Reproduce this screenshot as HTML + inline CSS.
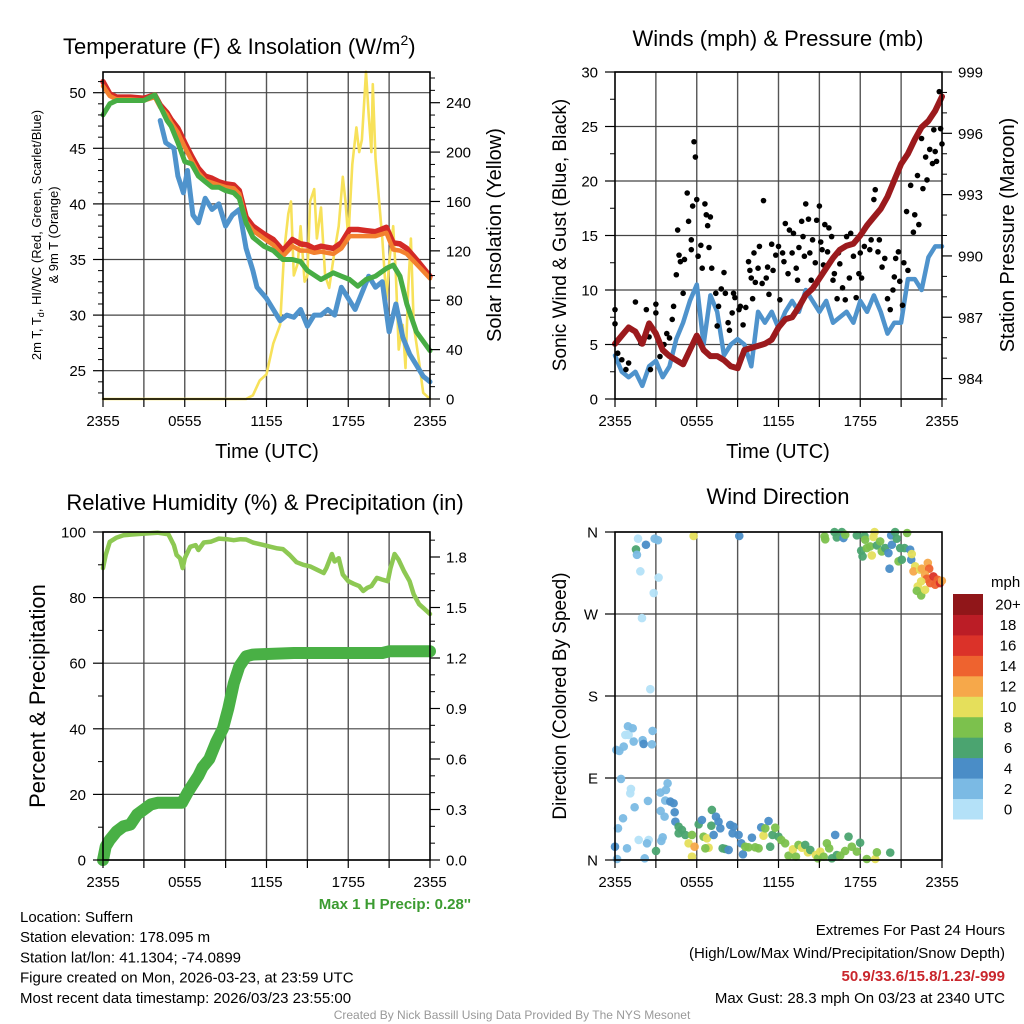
<!DOCTYPE html>
<html><head><meta charset="utf-8"><style>
html,body{margin:0;padding:0;background:#fff;}
svg{display:block;font-family:"Liberation Sans",Arial,sans-serif;}
</style></head><body>
<svg id="c" width="1024" height="1024" viewBox="0 0 1024 1024" xmlns="http://www.w3.org/2000/svg"></svg>
<script>
// ---------- DATA ----------
const timeTickLabels = ["2355","0555","1155","1755","2355"];
// Temperature panel (hours since 2355)
const tempHours = [0,0.5,1,2,3,3.8,4.2,4.7,5,5.5,6,6.5,7,7.5,8,8.5,9,9.6,10,10.5,11,11.8,12.5,13.2,13.9,14.5,15,15.5,16,16.9,17.5,18.1,18.7,19.3,20,20.8,21.3,21.8,22.3,23,24];
const tempRed   = [51,49.9,49.6,49.6,49.5,49.8,48.9,48.2,47.6,46.8,45.5,44.3,43.2,42.5,42.3,42,41.8,41.7,41.2,38.8,38,37.3,36.8,35.8,36.8,36.4,36.3,36,36.2,36,36.5,37.7,37.7,37.6,37.5,37.9,36.5,36.4,36,35,33.5];
const tempOrange= [50.6,49.7,49.4,49.4,49.3,49.6,48.7,48,47.3,46.4,45.1,43.9,42.8,42.1,41.9,41.7,41.5,41.4,40.9,38.4,37.6,36.9,36.3,35.3,36.2,35.8,35.8,35.6,35.7,35.5,36,37.1,37.1,37.1,37.1,37.4,35.9,35.8,35.5,34.6,33.3];
const tempGreen = [48,49,49.3,49.3,49.3,49.8,48.8,47.5,47,45.5,43.8,43.6,42.5,42,41.5,41.5,41.2,41,40.5,38.3,37,36.2,35.8,35,35,34.8,34,33.6,33.2,33.8,33.5,33.2,32.6,33.2,33.5,34.2,34.5,33.5,31,28.5,26.8];
const dewHours = [4.2,4.6,5.2,5.5,5.9,6.2,6.6,7,7.5,8,8.5,9,9.5,10,10.5,11,11.3,12,12.5,13,13.5,14,14.5,15,15.5,16,16.5,17,17.5,18,18.5,19,19.5,20,20.5,21,21.5,22,22.5,23,23.5,24];
const dewBlue  = [47.5,45.5,45,42.5,41,43,39,38.3,40.5,39.5,40,38,39,39.5,36,34,32.5,31.5,30.5,29.5,30,29.8,30.5,29,30,30,30.5,30,32.5,31.5,30.5,32,33.5,32.5,33,28.5,31,28,26.5,25.5,24.5,24];
const solarHours = [0,10.5,11,11.5,12,12.5,13,13.3,13.6,13.8,14,14.3,14.5,14.8,15,15.2,15.5,15.7,16,16.3,16.6,17,17.3,17.6,17.8,18,18.3,18.6,18.8,19,19.3,19.5,19.7,19.8,20,20.5,20.8,21,21.3,21.5,21.7,22,22.2,22.4,22.6,22.8,23.2,23.5,24];
const solarVals  = [0,0,3,15,20,45,60,120,150,160,100,110,140,95,100,160,170,130,155,100,90,120,140,180,160,130,190,220,200,210,265,230,200,255,195,130,80,110,140,100,40,60,25,90,130,60,30,5,0];
// Winds panel
const windHours = [0,0.5,1,1.5,2,2.5,3,3.5,4,4.5,5,5.5,6,6.5,7,7.5,8,8.5,9,9.5,10,10.5,11,11.5,12,12.5,13,13.5,14,14.5,15,15.5,16,16.5,17,17.5,18,18.5,19,19.5,20,20.5,21,21.5,22,22.5,23,23.5,24];
const windSpeed = [4,2.5,2,2.5,1.2,3,3.5,2,3,5.5,7,9,10.5,5,9.5,8,4,5,5.5,5,3,8,7,8,6.5,8,9,8,10,9,8,9,7,7.5,8,7,9,8,9.5,8,6,7,7,11,11,10,13,14,14];
const pressureMb = [985.7,986.1,986.5,986.3,985.7,986.7,986.2,985.4,985.1,984.9,984.7,985.4,986.1,985.4,985.1,985.1,984.9,984.6,984.5,985.4,985.5,985.6,985.7,985.9,986.5,986.9,987.0,987.5,988.1,988.4,988.9,989.4,989.9,990.3,990.5,990.6,991.0,991.5,991.9,992.3,992.9,993.7,994.5,995.0,995.7,996.3,996.6,997.1,997.8];
const gustHours = [0,0,0.2,0.5,0.8,1,1.5,1.9,2.3,2.5,2.6,3,3,3.3,3.6,3.8,4,4.2,4.3,4.5,4.6,4.7,4.8,5,5.1,5.3,5.4,5.6,5.6,5.7,5.8,5.9,6,6.1,6.3,6.4,6.6,6.7,6.8,6.9,7,7.1,7.4,7.5,7.6,7.8,8,8.1,8.3,8.4,8.6,8.7,8.8,9.1,9.2,9.4,9.6,9.8,9.9,10,10.1,10.2,10.3,10.5,10.6,10.8,10.9,11.1,11.2,11.3,11.5,11.6,11.8,12,12.1,12.3,12.4,12.5,12.7,12.8,13,13.1,13.3,13.4,13.5,13.7,13.8,13.9,14,14.2,14.3,14.4,14.5,14.7,14.8,15,15.1,15.2,15.3,15.4,15.6,15.7,15.9,16,16.1,16.3,16.4,16.5,16.7,16.9,17,17.2,17.3,17.5,17.7,17.9,18,18.1,18.3,18.5,18.7,18.8,19,19.1,19.3,19.4,19.6,19.8,20,20.2,20.4,20.5,20.6,20.8,20.9,21.1,21.2,21.4,21.5,21.7,21.9,22,22.2,22.3,22.5,22.6,22.8,22.9,23.1,23.3,23.4,23.5,23.6,23.8,23.9,24];
const gustVals  = [8.2,6.9,4.2,3.6,2.7,3.3,8.9,5.1,8.2,5.7,2.7,7.9,8.7,3.9,5,6,5.6,7.3,8.5,11.4,15.5,13.2,12.6,9.7,12.8,18.9,16.3,13.7,14.6,17.7,23.6,22.2,18.3,13.1,14.1,12,17.9,16.9,15.9,13.9,16.7,12,9.7,6.7,8.5,10.1,11.6,9.7,7,6.3,7.9,9.7,9.3,8.2,8.5,6.8,8.4,12.6,11.8,11.1,9.2,13.4,10.7,12,14,10.6,18.2,11.1,12.1,9.6,14.2,11.8,13.2,14,9.1,13.4,12.6,16.1,11.5,15.5,13.4,15.2,12,10.9,13.9,16.3,14.9,13.1,17.9,16.5,13.4,10.9,14.6,12.5,16.4,17.7,14.4,13.7,12.3,16,13.5,15.7,14.9,10.9,11.5,9.2,13.4,12.4,10.2,9.1,14.9,11.1,15.2,13.1,9.3,11.5,13.4,11.1,14,15.9,13.7,14.6,18.3,19.2,13.5,14.6,12.1,12.9,9.2,8.2,10,11.2,12.9,13.5,10.8,8.6,12.5,17.2,11.8,19.6,15.3,16.9,20.5,16,23.9,19.3,22.2,20.1,22.9,21.6,24.7,22.7,21.8,28.2,24.8,23.4];
// RH & precip panel
const rhHours = [0,0.2,0.5,1,1.5,2,3,4,4.8,5.2,5.4,5.65,5.85,6,6.4,6.8,7,7.4,7.9,8.5,9.1,9.6,10.1,10.5,11,11.8,12.3,12.8,13.2,13.7,14.2,14.7,15.2,15.7,16.2,16.4,16.8,17,17.3,17.6,18,18.4,18.8,19.1,19.4,19.7,20.1,20.5,20.9,21.1,21.4,21.7,22.1,22.5,22.8,23.2,23.6,24];
const rhVals  = [89,93,97,98.3,99,99.2,99.5,99.8,99.3,96,93,92,89,92,95.5,96,94.5,96.8,97,98,97.8,97.5,97.8,97.7,96.8,96,95.5,95,94.8,93,90.8,90,89.5,88.5,87.5,89,93.3,91,92,87,85,84.2,83.5,82,83,83.5,86,85.5,85,89,93.3,91.5,88,85,81,78,76.5,75];
const precipHours = [0,0.2,0.5,1,1.5,2,2.5,3,3.5,4,5,5.8,6.2,6.6,7,7.3,7.8,8.3,8.8,9.2,9.6,10,10.5,11,14,20.5,21,24];
const precipIn    = [0,0.08,0.12,0.17,0.2,0.21,0.27,0.3,0.33,0.34,0.34,0.34,0.4,0.45,0.5,0.55,0.6,0.7,0.78,0.9,1.05,1.15,1.21,1.22,1.23,1.23,1.24,1.24];
// Wind direction panel
const dirHours = [1.69,1.54,1.61,2.27,2.91,3.15,1.86,3.2,2.84,1.98,2.59,5.77,9.12,15.38,15.43,16.11,16.28,16.65,16.77,16.9,17.75,18.31,18.36,19.05,18.97,18.07,18.17,18.48,18.73,18.85,19.22,19.46,19.58,19.83,20.07,20.32,20.27,20.56,20.68,20.93,20.15,20.81,21.05,21.25,21.44,21.66,21.74,21.78,22.03,21.91,22.4,22.52,22.96,23.06,22.76,22.88,23.13,23.37,23.5,23.69,23.86,23.99,22.47,22.22,22.15,22.47,22.76,0.1,0.32,0.64,0.95,0.76,1.0,1.3,1.37,2.03,2.1,2.71,2.76,0.44,1.12,1.17,1.44,2.42,0.59,0.22,0,0.15,0.88,1.74,2.47,2.35,2.18,3.01,3.33,3.74,3.86,3.69,4.06,4.3,3.35,3.64,4.38,3.5,3.4,4.43,4.67,4.91,4.67,5.16,5.4,5.65,5.84,5.65,6.14,6.38,6.5,6.75,6.87,6.63,7.07,7.11,7.24,7.41,7.6,7.73,7.9,8.09,8.34,8.46,8.7,8.63,9.07,9.27,9.39,9.56,9.8,10.05,10.29,10.54,10.73,10.9,11.03,11.27,11.39,11.56,11.76,12.0,12.2,12.49,12.74,13.06,13.28,13.47,13.72,13.96,14.16,14.33,14.74,14.89,15.06,15.31,15.55,15.72,15.92,16.16,16.28,16.53,16.89,17.14,17.38,17.75,17.99,18.48,19.1,19.22,20.2];
const dirDeg = [352.7,340.9,335,346,352.7,351,316.8,310,293,265.5,187.5,355.6,355.6,355.2,351.9,359.9,354,359.9,353.4,357,356.3,355.6,351.6,359.9,354.5,339.5,333.2,342.4,344.2,334.3,345.3,349.7,338.7,342.4,336.9,346,356.3,359.9,352.7,342.4,319.7,327.8,329.6,342.4,358.9,340.6,329.6,335.8,322.3,316.8,318.6,319.7,326,319.7,313.1,308.7,304,311.3,302.1,307.6,304,306.5,305.8,300.3,295.5,290.4,296.6,120.8,119.7,124.5,146.8,137.3,137.3,144.6,130,131.5,127.4,127,141.7,89,73.2,78,57.9,64.8,45.8,34.8,14.6,1.1,12.8,22,22,18.3,1.8,9.9,74,76.9,84.2,65.2,64.1,62.3,53.8,47.6,52.4,24.9,20.9,42.1,36.6,33,29.3,27.5,18.3,27.5,14.6,3.7,39.2,43.9,25.6,23.8,13.5,12.8,37.7,54.9,27.5,47.6,42.1,34.8,12.8,12.1,11,38.5,36.6,29.3,27.5,18.3,6.2,14.6,13.9,24.5,13.9,12.8,35.9,26.7,34.8,42.8,14.6,27.5,35.5,25.6,22,18.3,4.8,11.7,3.7,16.5,13.5,16.5,8.4,11,5.5,1.8,9.2,3.7,18.3,12.8,1.8,27.5,5.5,4.8,9.9,25.6,14.6,9.2,19,1.1,1.1,8.4,8.1];
const dirSpeed = [1,6,3,5,3,3,1,1,1,1,1,10,5,8,8,6,6,6,5,8,6,6,8,10,10,6,6,8,8,10,6,8,8,6,5,5,5,6,6,6,5,8,6,6,8,5,5,10,10,12,10,12,12,14,12,14,14,16,14,14,16,12,10,10,8,8,10,3,3,3,3,1,1,3,3,3,5,3,3,3,1,1,3,3,3,3,4,3,3,1,1,3,3,6,3,3,3,3,5,5,3,3,5,3,3,5,6,6,6,6,10,8,12,10,6,5,8,10,10,8,6,6,5,5,5,5,6,6,5,5,5,5,5,5,5,8,8,5,8,8,5,10,8,5,6,6,8,6,8,8,8,10,8,8,10,6,10,6,10,8,10,8,8,8,6,5,6,8,8,6,8,8,6,8,10,8,6];
const speedBinLabels = ["0","2","4","6","8","10","12","14","16","18","20+"];
const speedBinColors = ["#b4e1f8","#7bbae4","#4a8dc7","#4ba470","#7cc14d","#e5df5b","#f6a84a","#ee632f","#db3229","#bb1d26","#901619"];

// ---------- DRAW ----------
const NS="http://www.w3.org/2000/svg";
const svg=document.getElementById('c');
function el(tag,attrs,parent){const e=document.createElementNS(NS,tag);for(const k in attrs)e.setAttribute(k,attrs[k]);(parent||svg).appendChild(e);return e;}
function txt(s,x,y,size,anchor,parent,extra){const t=el('text',Object.assign({x:x,y:y,'font-size':size,'text-anchor':anchor||'start',fill:'#000'},extra||{}),parent);t.textContent=s;return t;}
function lin(d0,d1,r0,r1){return v=>r0+(v-d0)*(r1-r0)/(d1-d0);}

function panel(name,L,T,R,B){
  const g=el('g',{});
  
  
  const xs=lin(0,24,L,R);
  return {g,xs,L,T,R,B};
}
function grid(p,yPix){
  const g=el('g',{},p.g);
  
  
  for(let h=3;h<24;h+=3){el('line',{x1:p.xs(h),x2:p.xs(h),y1:p.T,y2:p.B,stroke:'#555','stroke-width':1.4},g);}
  yPix.forEach(y=>el('line',{x1:p.L,x2:p.R,y1:y,y2:y,stroke:'#444','stroke-width':1.2},g));
}
function frame(p){
  const f=el('rect',{x:p.L,y:p.T,width:p.R-p.L,height:p.B-p.T,fill:'none',stroke:'#000','stroke-width':1.6},p.g);
  
  
  const xa=el('g',{},p.g);
  
  
  for(let i=0;i<=8;i++){const x=p.xs(i*3);el('line',{x1:x,x2:x,y1:p.B,y2:p.B+8,stroke:'#000','stroke-width':1.2},xa);}
  timeTickLabels.forEach((s,i)=>txt(s,p.xs(i*6),p.B+27,15,'middle',xa));
}
function yAxis(p,name,side,vals,labels,ys,minorVals){
  const g=el('g',{},p.g);
  
  
  const x0=side==='left'?p.L:p.R, dir=side==='left'?-1:1;
  vals.forEach((v,i)=>{const y=ys(v);el('line',{x1:x0,x2:x0+dir*10,y1:y,y2:y,stroke:'#000','stroke-width':1.2},g);
    txt(labels[i],side==='left'?x0-17:x0+16,y+5.5,15,side==='left'?'end':'start',g);});
  (minorVals||[]).forEach(v=>{const y=ys(v);el('line',{x1:x0,x2:x0+dir*5,y1:y,y2:y,stroke:'#000','stroke-width':1},g);});
}
function path(p,name,xsArr,ysArr,xs,ys,color,w){
  let d='';xsArr.forEach((h,i)=>{d+=(i?'L':'M')+xs(h).toFixed(1)+','+ys(ysArr[i]).toFixed(1);});
  const e=el('path',{d:d,fill:'none',stroke:color,'stroke-width':w,'stroke-linejoin':'round','stroke-linecap':'round'},p.g);
  
  
  return e;
}
function range(a,b,s){const r=[];for(let v=a;v<=b+1e-9;v+=s)r.push(+v.toFixed(3));return r;}
function rtitle(s,x,y,size,parent,name){const t=txt(s,x,y,size,'middle',parent,{transform:'rotate(-90 '+x+' '+y+')'});return t;}

// Panel 1: Temperature
(function(){
  const p=panel('temperature-panel',103,72,430,399);
  const yT=lin(25,50,370.7,92.7), yS=lin(0,240,399,102.7);
  const maj=[25,30,35,40,45,50];
  grid(p,maj.map(yT));
  path(p,'solar-insolation-line',solarHours,solarVals,p.xs,yS,'#f7e15a',2.6);
  path(p,'dewpoint-line',dewHours,dewBlue,p.xs,yT,'#4f93cc',5);
  path(p,'red-temperature-line',tempHours,tempRed,p.xs,yT,'#d42a26',5.5);
  path(p,'orange-9m-temperature-line',tempHours,tempOrange,p.xs,yT,'#f3812f',4.5);
  path(p,'green-hiwc-line',tempHours,tempGreen,p.xs,yT,'#47ad44',5);
  frame(p);
  yAxis(p,'left-y-axis','left',maj,maj.map(String),yT,range(23,51,1).filter(v=>v%5!==0));
  yAxis(p,'right-y-axis','right',[0,40,80,120,160,200,240],["0","40","80","120","160","200","240"],yS,range(10,260,10).filter(v=>v%40!==0));
  const t=txt('Temperature (F) & Insolation (W/m',63,54,22,'start',p.g);
  const sup=el('tspan',{dy:-9,'font-size':14},t);sup.textContent='2';
  const cl=el('tspan',{dy:9},t);cl.textContent=')';
  
  const xt=txt('Time (UTC)',267,458,20,'middle',p.g);
  const lt=el('text',{x:41,y:235,'font-size':13,'text-anchor':'middle',transform:'rotate(-90 41 235)'},p.g);
  lt.innerHTML='2m T, T<tspan dy="3" font-size="9">d</tspan><tspan dy="-3">, HI/WC (Red, Green, Scarlet/Blue)</tspan>';
  
  rtitle('& 9m T (Orange)',58,235,13,p.g,'left-y-axis-title-line2');
  rtitle('Solar Insolation (Yellow)',501,235,20,p.g,'right-y-axis-title');
})();

// Panel 2: Winds
(function(){
  const p=panel('winds-panel',615,72,942,399);
  const yW=lin(0,30,399,72), yP=lin(983,999,399,72);
  const maj=[0,5,10,15,20,25,30];
  grid(p,maj.map(yW));
  path(p,'sonic-wind-line',windHours,windSpeed,p.xs,yW,'#4f93cc',4.5);
  const dg=el('g',{},p.g);
  
  
  gustHours.forEach((h,i)=>{const c=el('circle',{cx:p.xs(h),cy:yW(gustVals[i]),r:2.8,fill:'#000'},dg);
    
    });
  path(p,'station-pressure-line',windHours,pressureMb,p.xs,yP,'#9b1a1d',6);
  frame(p);
  yAxis(p,'left-y-axis','left',maj,maj.map(String),yW,range(2.5,27.5,5));
  yAxis(p,'right-y-axis','right',[984,987,990,993,996,999],["984","987","990","993","996","999"],yP,range(983,998,1).filter(v=>v%3!==0));
  const t=txt('Winds (mph) & Pressure (mb)',778,46,22,'middle',p.g);
  const xt=txt('Time (UTC)',778,458,20,'middle',p.g);
  rtitle('Sonic Wind & Gust (Blue, Black)',566,235,19,p.g,'left-y-axis-title');
  rtitle('Station Pressure (Maroon)',1014,235,20,p.g,'right-y-axis-title');
})();

// Panel 3: RH & precip
(function(){
  const p=panel('humidity-precip-panel',103,532,430,860);
  const yR=lin(0,100,860,532), yI=lin(0,1.8,860,557);
  const maj=[0,20,40,60,80,100];
  grid(p,maj.map(yR));
  path(p,'precipitation-line',precipHours,precipIn,p.xs,yI,'#49b045',12);
  path(p,'relative-humidity-line',rhHours,rhVals,p.xs,yR,'#8dc853',4.5);
  frame(p);
  yAxis(p,'left-y-axis','left',maj,maj.map(String),yR,range(10,90,20));
  yAxis(p,'right-y-axis','right',[0,0.3,0.6,0.9,1.2,1.5,1.8],["0.0","0.3","0.6","0.9","1.2","1.5","1.8"],yI,range(0.1,1.9,0.1).filter(v=>Math.round(v*10)%3!==0));
  const t=txt('Relative Humidity (%) & Precipitation (in)',265,510,22,'middle',p.g);
  rtitle('Percent & Precipitation',45,696,22,p.g,'left-y-axis-title');
  const m=txt('Max 1 H Precip: 0.28\'\'',471,909,15,'end',p.g,{'font-weight':'bold',fill:'#3b9b30'});
})();

// Panel 4: Wind direction
(function(){
  const p=panel('wind-direction-panel',615,532,942,860);
  const yD=lin(0,360,860,532);
  const maj=[0,90,180,270,360];
  grid(p,maj.map(yD));
  const dg=el('g',{},p.g);
  
  
  dirHours.forEach((h,i)=>{const b=Math.min(10,Math.floor(dirSpeed[i]/2));
    const c=el('circle',{cx:p.xs(h),cy:yD(dirDeg[i]),r:4.3,fill:speedBinColors[b],'fill-opacity':0.95},dg);
    
    });
  frame(p);
  yAxis(p,'left-y-axis','left',maj,["N","E","S","W","N"],yD,[]);
  const t=txt('Wind Direction',778,504,22,'middle',p.g);
  rtitle('Direction (Colored By Speed)',566,696,19,p.g,'left-y-axis-title');
  const lg=el('g',{},p.g);
  
  
  const cb=lin(0,11,819,594);
  speedBinColors.forEach((c,i)=>{const r=el('rect',{x:953,y:cb(i+1),width:30,height:cb(i)-cb(i+1)+0.5,fill:c},lg);
    
    
    txt(speedBinLabels[i],1008,cb(i+0.5)+5.5,15,'middle',lg);});
  txt('mph',991,587,15,'start',lg);
})();

// Footer
(function(){
  const g=el('g',{});
  
  
  ["Location: Suffern","Station elevation: 178.095 m","Station lat/lon: 41.1304; -74.0899","Figure created on Mon, 2026-03-23, at 23:59 UTC","Most recent data timestamp: 2026/03/23 23:55:00"].forEach((s,i)=>txt(s,20,922+i*20.2,15,'start',g));
  txt('Extremes For Past 24 Hours',1005,935,15,'end',g);
  txt('(High/Low/Max Wind/Precipitation/Snow Depth)',1005,958,15,'end',g);
  txt('50.9/33.6/15.8/1.23/-999',1005,981,15,'end',g,{'font-weight':'bold',fill:'#c9262c'});
  txt('Max Gust: 28.3 mph On 03/23 at 2340 UTC',1005,1003,15,'end',g);
  txt('Created By Nick Bassill Using Data Provided By The NYS Mesonet',512,1019,12,'middle',g,{fill:'#999'});
})();
</script>
</body></html>
